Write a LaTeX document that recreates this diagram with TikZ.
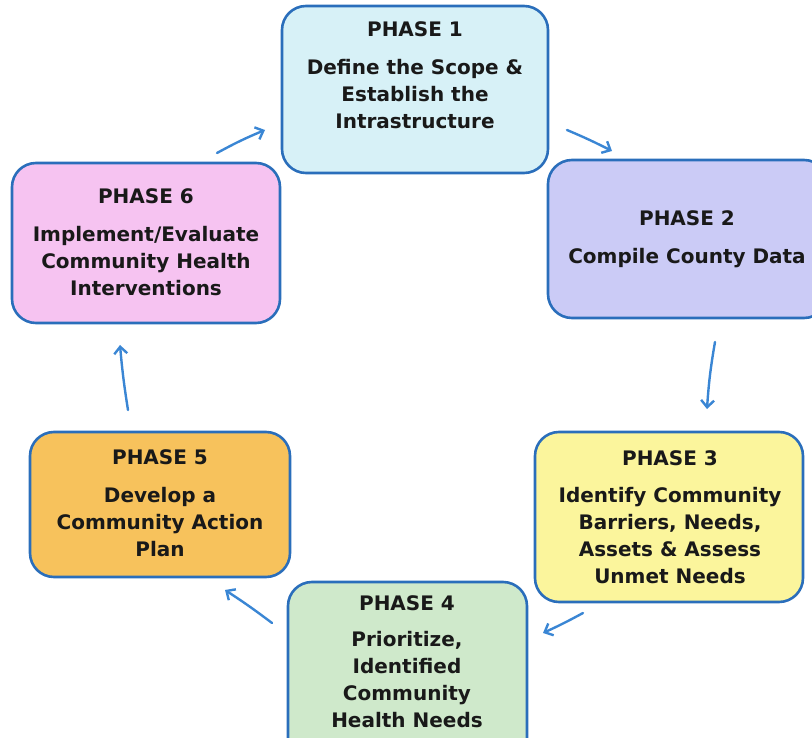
\documentclass[tikz,border=0pt]{standalone}
\usepackage{fontspec}
\setmainfont{DejaVu Sans}
\usepackage{tikz}
\usetikzlibrary{arrows.meta}
\definecolor{edgeblue}{HTML}{2A6EBB}
\definecolor{arrowblue}{HTML}{3A86D4}
\definecolor{ph1}{HTML}{D7F1F7}
\definecolor{ph2}{HTML}{CBCBF6}
\definecolor{ph3}{HTML}{FBF59C}
\definecolor{ph4}{HTML}{CFE9CB}
\definecolor{ph5}{HTML}{F7C25C}
\definecolor{ph6}{HTML}{F6C3F1}

\begin{document}
\begin{tikzpicture}[x=1pt,y=-1pt,
  phasebox/.style={draw=edgeblue, line width=2.6pt, rounded corners=24pt, inner sep=0pt},
  phasetext/.style={align=center, font=\fontsize{20}{27}\selectfont\bfseries, text=black!90},
  flow/.style={draw=arrowblue, line width=2.4pt, line cap=round, -{Straight Barb[length=7pt,width=13pt]}}]
\useasboundingbox (0,0) rectangle (812,738);

\node[phasebox, fill=ph1, minimum width=266, minimum height=167](p1) at (415,89.5) {};
\node[phasebox, fill=ph2, minimum width=280, minimum height=158](p2) at (688,239) {};
\node[phasebox, fill=ph3, minimum width=268, minimum height=170](p3) at (669,517) {};
\node[phasebox, fill=ph4, minimum width=239, minimum height=180](p4) at (407.5,672) {};
\node[phasebox, fill=ph5, minimum width=260, minimum height=145](p5) at (160,504.5) {};
\node[phasebox, fill=ph6, minimum width=268, minimum height=160](p6) at (146,243) {};

\node[phasetext](t1) at (415,75) {PHASE 1\\[11pt]Define the Scope \&\\Establish the\\Intrastructure};
\node[phasetext](t2) at (687,239) {PHASE 2\\[11pt]Compile County Data};
\node[phasetext](t3) at (670,517) {PHASE 3\\[10pt]Identify Community\\Barriers, Needs,\\Assets \& Assess\\Unmet Needs};
\node[phasetext](t4) at (407,662) {PHASE 4\\[9pt]Prioritize,\\Identified\\Community\\Health Needs};
\node[phasetext](t5) at (160,503) {PHASE 5\\[11pt]Develop a\\Community Action\\Plan};
\node[phasetext](t6) at (146,242) {PHASE 6\\[11pt]Implement/Evaluate\\Community Health\\Interventions};

% arrow ends
\coordinate (s61) at (217,153);
\coordinate (e61) at (265,130);
\coordinate (s12) at (567,130);
\coordinate (e12) at (612,151);
\coordinate (s23) at (715,342);
\coordinate (e23) at (707,409);
\coordinate (s34) at (583,613);
\coordinate (e34) at (543,633);
\coordinate (s45) at (272,623);
\coordinate (e45) at (225,590);
\coordinate (s56) at (128,410);
\coordinate (e56) at (120,345);

\draw[flow] (s61) to[bend left=3] (e61);
\draw[flow] (s12) to[bend left=2] (e12);
\draw[flow] (s23) to[bend right=3] (e23);
\draw[flow] (s34) to[bend left=2] (e34);
\draw[flow] (s45) to[bend right=2] (e45);
\draw[flow] (s56) to[bend left=2] (e56);
\end{tikzpicture}
\end{document}
